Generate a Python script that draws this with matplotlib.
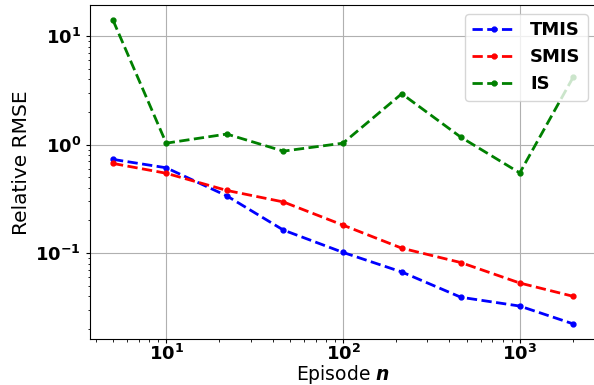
import matplotlib
matplotlib.use("Agg")
import matplotlib.pyplot as plt

episodes = [5, 10, 22, 46, 100, 215, 464, 1000, 2000]
tmis_rmse = [0.73, 0.611, 0.337, 0.163, 0.1015, 0.067, 0.0392, 0.0325, 0.0223]
smis_rmse = [0.67, 0.544, 0.378, 0.296, 0.181, 0.111, 0.0818, 0.053, 0.040]
is_rmse = [14.0, 1.03, 1.25, 0.87, 1.03, 2.94, 1.17, 0.548, 4.15]

series = [
    ("TMIS", tmis_rmse, "b"),
    ("SMIS", smis_rmse, "r"),
    ("IS", is_rmse, "g"),
]

fig = plt.figure(figsize=(5.94, 3.85), dpi=100)
# right spine sits just past the figure edge, as in the reference crop
ax = fig.add_axes([90 / 594, 46 / 385, 506 / 594, 334 / 385])

for name, vals, col in series:
    ax.plot(episodes, vals, "--", color=col, marker=".", markersize=7,
            linewidth=2, label=name)

ax.set_xscale("log")
ax.set_yscale("log")
ax.grid(True, which="major", color="#b0b0b0", linewidth=0.8)

for lab in ax.get_xticklabels() + ax.get_yticklabels():
    lab.set_fontweight("bold")
ax.tick_params(axis="both", which="major", labelsize=13, length=3)
ax.tick_params(axis="both", which="minor", length=1.8)
ax.tick_params(axis="x", which="major", pad=0.5)

ax.set_xlabel(r"Episode $\boldsymbol{n}$", fontsize=13.5)
ax.set_ylabel("Relative RMSE", fontsize=14.5)
ax.xaxis.set_label_coords(0.5, -0.0705)
ax.yaxis.set_label_coords(-0.117, 0.527)

ax.legend(loc="upper right", prop={"weight": "bold", "size": 13},
          bbox_to_anchor=(0.984, 0.973), borderaxespad=0, handlelength=2.4)

fig.savefig("out.png", dpi=100)
